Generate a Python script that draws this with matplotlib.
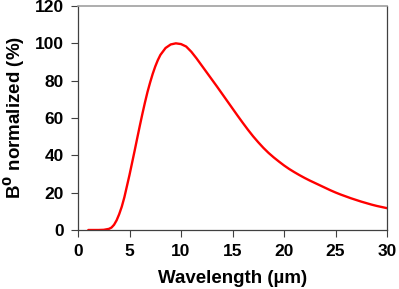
import matplotlib
matplotlib.use("Agg")
import matplotlib.pyplot as plt

# wavelength (um) and normalized B0 (%)
wavelength = [1, 1.5, 2, 2.5, 3, 3.25, 3.5, 3.75, 4, 4.25, 4.5, 4.75, 5, 5.25,
              5.5, 5.75, 6, 6.25, 6.5, 6.75, 7, 7.25, 7.5, 7.75, 8, 8.5, 9, 9.5,
              10, 10.5, 11, 11.5, 12, 12.5, 13, 13.5, 14, 14.5, 15, 15.5, 16,
              16.5, 17, 17.5, 18, 18.5, 19, 19.5, 20, 20.5, 21, 21.5, 22, 22.5,
              23, 23.5, 24, 24.5, 25, 25.5, 26, 26.5, 27, 27.5, 28, 28.5, 29,
              29.5, 30]
b0_norm = [0, 0, 0, 0.1, 0.6, 1.3, 2.8, 5.2, 8.5, 12.5, 17.5, 23.5, 29.5, 36,
           42.5, 49.2, 55.8, 62.2, 68.3, 74, 79, 83.6, 87.6, 91, 93.8, 97.5, 99.4,
           100, 99.6, 98.3, 95.5, 92, 88.2, 84.4, 80.6, 76.8, 72.9, 69, 65.1,
           61.2, 57.4, 53.7, 50.2, 47, 44, 41.3, 38.9, 36.7, 34.6, 32.7, 31,
           29.4, 27.9, 26.5, 25.2, 23.9, 22.6, 21.3, 20.1, 19, 18, 17, 16.1,
           15.2, 14.4, 13.6, 12.9, 12.3, 11.7]

x_ticks = [0, 5, 10, 15, 20, 25, 30]
y_ticks = [0, 20, 40, 60, 80, 100, 120]

plt.rcParams['font.family'] = ['Liberation Sans', 'DejaVu Sans']
plt.rcParams['font.weight'] = 'bold'

fig = plt.figure(figsize=(3.99, 2.89), dpi=100)
ax = fig.add_axes([78 / 399, 1 - 230 / 289, (387 - 78) / 399, (230 - 6) / 289])

ax.plot(wavelength, b0_norm, color='#ff0000', lw=1.7,
        solid_capstyle='round', solid_joinstyle='round')

ax.set_xlim(0, 30)
ax.set_ylim(0, 120)
ax.set_xticks(x_ticks)
ax.set_yticks(y_ticks)
ax.tick_params(direction='out', length=5, width=0.8, color='#404040',
               labelsize=12.5, pad=5)
for lab in ax.get_xticklabels() + ax.get_yticklabels():
    lab.set_fontweight('bold')

for side in ['left', 'bottom', 'right']:
    ax.spines[side].set_color('#404040')
    ax.spines[side].set_linewidth(0.9)
ax.spines['top'].set_color('#a0a0a0')
ax.spines['top'].set_linewidth(1.2)

ax.set_xlabel('Wavelength (µm)', fontsize=13.5, fontweight='bold', labelpad=8)
ax.set_ylabel('B$^\\mathbf{0}$ normalized (%)', fontsize=13.5, fontweight='bold',
              labelpad=6)

fig.savefig('out.png', dpi=100)
